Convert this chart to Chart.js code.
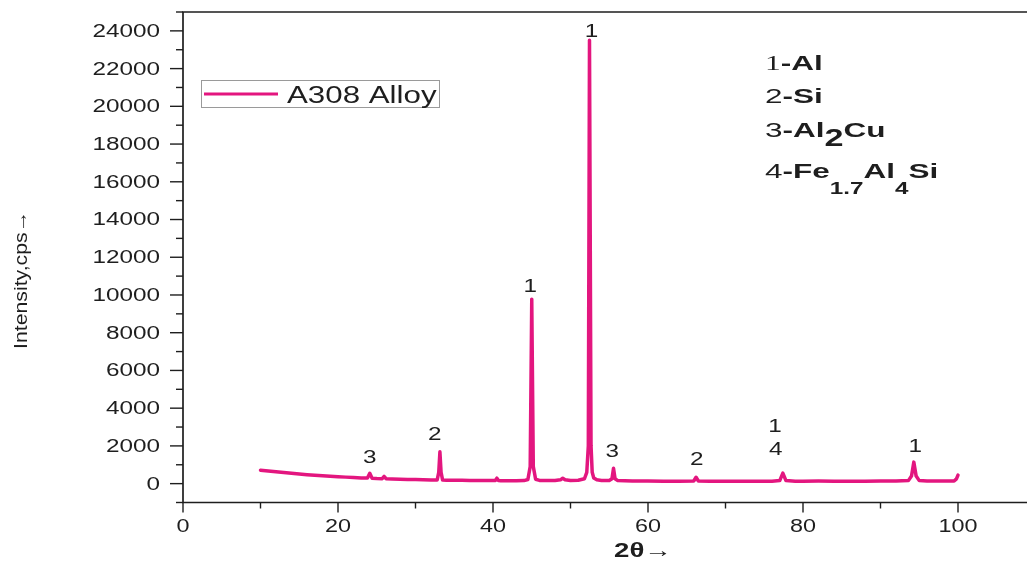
<!DOCTYPE html>
<html>
<head>
<meta charset="utf-8">
<script src="https://cdn.jsdelivr.net/npm/chart.js@4/dist/chart.umd.min.js"></script>
<style>
  html, body { margin: 0; padding: 0; background: #fff; overflow: hidden; }
  #wrap { width: 1046px; height: 563px; position: relative; }
</style>
</head>
<body>
<div id="wrap"><canvas id="c"></canvas></div>
<script>
// ---- data ----
const twoTheta = [10, 11, 12, 13, 14, 15, 16, 17, 18, 19, 20, 21, 22, 23, 23.8, 24.1, 24.4, 25, 25.7, 25.95, 26.2, 27, 28, 29, 30, 31, 32, 32.8, 33.0, 33.15, 33.3, 33.5, 34, 35, 36, 37, 38, 39, 40, 40.3, 40.5, 40.7, 41, 42, 43, 44, 44.5, 44.8, 45.0, 45.2, 45.5, 46, 47, 48, 48.7, 49.0, 49.3, 50, 51, 51.8, 52.1, 52.3, 52.45, 52.65, 52.8, 53.0, 53.4, 54, 55, 55.35, 55.55, 55.75, 56.1, 57, 58, 60, 62, 64, 65.9, 66.2, 66.5, 68, 70, 72, 74, 76, 77.0, 77.4, 77.8, 79, 80, 82, 84, 86, 88, 90, 92, 93.6, 94.0, 94.3, 94.6, 95.0, 96, 98, 99.5, 99.8, 100];
const intensity = [715, 670, 625, 585, 545, 510, 475, 445, 415, 390, 365, 345, 325, 305, 295, 550, 290, 275, 265, 380, 260, 250, 235, 225, 215, 205, 195, 195, 600, 1690, 600, 190, 185, 180, 175, 170, 165, 160, 160, 170, 290, 165, 155, 150, 150, 160, 220, 900, 9780, 900, 230, 170, 160, 165, 200, 290, 210, 170, 180, 260, 600, 2000, 23500, 2000, 600, 300, 200, 170, 170, 260, 820, 260, 160, 150, 140, 135, 130, 130, 140, 340, 140, 130, 125, 130, 125, 130, 160, 560, 160, 130, 125, 135, 130, 125, 130, 135, 140, 160, 400, 1140, 400, 160, 140, 135, 140, 250, 450];

const seriesName = "A308 Alloy";
const xTickValues = [0, 20, 40, 60, 80, 100];
const xTickLabels = ["0", "20", "40", "60", "80", "100"];
const yTickValues = [0, 2000, 4000, 6000, 8000, 10000, 12000, 14000, 16000, 18000, 20000, 22000, 24000];
const yTickLabels = ["0", "2000", "4000", "6000", "8000", "10000", "12000", "14000", "16000", "18000", "20000", "22000", "24000"];
const xTitle = "2θ→";
const yTitle = "Intensity,cps→";

const peakLabelText = ["3", "2", "1", "1", "3", "2", "1", "4", "1"];
const peakLabelX    = [24.1, 32.5, 44.8, 52.7, 55.4, 66.3, 76.4, 76.5, 94.5];
const peakLabelY    = [1350, 2570, 10410, 23930, 1670, 1250, 2990, 1775, 1935];

// phase key: [number, [ [text, kind], ... ]]  kind: 'b' bold, 's' subscript
const phaseKey = [
  ["1", [["-Al", "b"]]],
  ["2", [["-Si", "b"]]],
  ["3", [["-Al", "b"], ["2", "s2"], ["Cu", "b"]]],
  ["4", [["-Fe", "b"], ["1.7", "s"], ["Al", "b"], ["4", "s"], ["Si", "b"]]]
];

const LINE_COLOR = "#E3167F";
const INK = "#1e1e1e";

function stretchText(ctx, s, x, y, font, sx, align) {
  ctx.save();
  ctx.font = font;
  const w = ctx.measureText(s).width * sx;
  let x0 = x;
  if (align === "center") x0 = x - w / 2;
  else if (align === "right") x0 = x - w;
  ctx.translate(x0, y);
  ctx.scale(sx, 1);
  ctx.textAlign = "left";
  ctx.fillText(s, 0, 0);
  ctx.restore();
  return w;
}

const decorPlugin = {
  id: "decor",
  afterDatasetsDraw(chart) {
    const ctx = chart.ctx;
    const a = chart.chartArea;
    const xs = chart.scales.x, ys = chart.scales.y;
    ctx.save();
    // frame
    ctx.strokeStyle = INK;
    ctx.lineWidth = 1.7;
    ctx.beginPath();
    ctx.moveTo(a.left, a.top); ctx.lineTo(a.right, a.top);
    ctx.lineTo(a.right, a.bottom); ctx.lineTo(a.left, a.bottom); ctx.closePath();
    ctx.stroke();
    // y ticks
    ctx.lineWidth = 1.4;
    for (let v = ys.min; v <= ys.max; v += 1000) {
      const py = ys.getPixelForValue(v);
      const len = (v % 2000 === 0) ? 13 : 7;
      ctx.beginPath(); ctx.moveTo(a.left - len, py); ctx.lineTo(a.left, py); ctx.stroke();
    }
    // x ticks
    for (let v = xs.min; v <= xs.max; v += 10) {
      const px = xs.getPixelForValue(v);
      const len = (v % 20 === 0) ? 10 : 6;
      ctx.beginPath(); ctx.moveTo(px, a.bottom); ctx.lineTo(px, a.bottom + len); ctx.stroke();
    }
    // tick labels
    ctx.fillStyle = INK;
    ctx.textBaseline = "middle";
    yTickValues.forEach((v, i) => {
      stretchText(ctx, yTickLabels[i], a.left - 23, ys.getPixelForValue(v) + 1, "18px 'Liberation Sans', Arial", 1.35, "right");
    });
    xTickValues.forEach((v, i) => {
      stretchText(ctx, xTickLabels[i], xs.getPixelForValue(v), a.bottom + 25, "18px 'Liberation Sans', Arial", 1.3, "center");
    });
    // axis titles
    stretchText(ctx, xTitle, a.left + 460, a.bottom + 49, "bold 20px 'Liberation Sans', Arial", 1.38, "center");
    ctx.save();
    ctx.translate(22, 280);
    ctx.rotate(-Math.PI / 2);
    stretchText(ctx, yTitle, 0, 0, "19px 'Liberation Sans', Arial", 1.12, "center");
    ctx.restore();

    // peak labels
    peakLabelText.forEach((t, i) => {
      stretchText(ctx, t, xs.getPixelForValue(peakLabelX[i]), ys.getPixelForValue(peakLabelY[i]), "18px 'Liberation Sans', Arial", 1.35, "center");
    });

    // legend
    const lx = a.left + 18, ly = a.top + 68;
    ctx.strokeStyle = "#9a9a9a";
    ctx.lineWidth = 1;
    ctx.strokeRect(lx + 0.5, ly + 0.5, 238, 27);
    ctx.strokeStyle = LINE_COLOR;
    ctx.lineWidth = 3;
    ctx.beginPath(); ctx.moveTo(lx + 3, ly + 14); ctx.lineTo(lx + 77, ly + 14); ctx.stroke();
    ctx.fillStyle = INK;
    ctx.textBaseline = "alphabetic";
    stretchText(ctx, seriesName, lx + 86, ly + 23, "23px 'Liberation Sans', Arial", 1.36, "left");

    // phase key
    const kx = a.left + 582;
    const baselines = [a.top + 58, a.top + 91, a.top + 125, a.top + 166];
    const SX = 1.5;
    phaseKey.forEach((row, r) => {
      let x = kx;
      const by = baselines[r];
      const numFont = row[0] === "1" ? "21px 'Liberation Serif', 'Times New Roman', serif" : "21px 'Liberation Sans', Arial";
      x += stretchText(ctx, row[0], x, by, numFont, SX, "left");
      row[1].forEach(([t, kind]) => {
        if (kind === "b") {
          x += stretchText(ctx, t, x, by, "bold 21px 'Liberation Sans', Arial", SX, "left");
        } else if (kind === "s2") {
          x += stretchText(ctx, t, x, by + 9, "bold 24px 'Liberation Sans', Arial", SX * 0.95, "left");
        } else {
          x += stretchText(ctx, t, x, by + 16, "bold 17px 'Liberation Sans', Arial", SX * 0.95, "left");
        }
      });
    });
    ctx.restore();
  }
};

const points = twoTheta.map((x, i) => ({ x: x, y: intensity[i] }));

new Chart(document.getElementById("c"), {
  type: "line",
  data: {
    datasets: [{
      label: seriesName,
      data: points,
      borderColor: LINE_COLOR,
      backgroundColor: LINE_COLOR,
      borderWidth: 3.5,
      pointRadius: 0,
      tension: 0,
      borderJoinStyle: "round",
      borderCapStyle: "round",
      fill: false
    }]
  },
  options: {
    responsive: true,
    maintainAspectRatio: false,
    animation: false,
    events: [],
    layout: { padding: { left: 183, top: 12, right: 10.5, bottom: 60.5 } },
    plugins: { legend: { display: false }, tooltip: { enabled: false } },
    scales: {
      x: { type: "linear", min: 0, max: 110, display: false },
      y: { type: "linear", min: -1000, max: 25000, display: false }
    }
  },
  plugins: [decorPlugin]
});
</script>
</body>
</html>
